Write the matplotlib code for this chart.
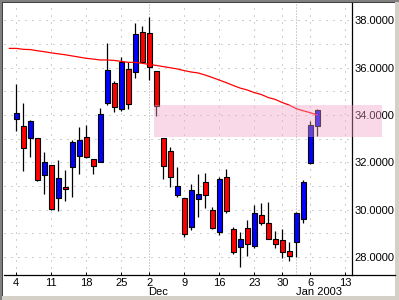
import matplotlib
matplotlib.use('Agg')
import matplotlib.pyplot as plt
from matplotlib.patches import Rectangle
from matplotlib.lines import Line2D
from matplotlib.transforms import blended_transform_factory

plt.rcParams['font.family'] = ['Liberation Sans', 'DejaVu Sans']

# trading days Nov 4 2002 .. Jan 7 2003
days = ['Nov 4', 'Nov 5', 'Nov 6', 'Nov 7', 'Nov 8',
        'Nov 11', 'Nov 12', 'Nov 13', 'Nov 14', 'Nov 15',
        'Nov 18', 'Nov 19', 'Nov 20', 'Nov 21', 'Nov 22',
        'Nov 25', 'Nov 26', 'Nov 27', 'Nov 29',
        'Dec 2', 'Dec 3', 'Dec 4', 'Dec 5', 'Dec 6',
        'Dec 9', 'Dec 10', 'Dec 11', 'Dec 12', 'Dec 13',
        'Dec 16', 'Dec 17', 'Dec 18', 'Dec 19', 'Dec 20',
        'Dec 23', 'Dec 24', 'Dec 26', 'Dec 27',
        'Dec 30', 'Dec 31', 'Jan 2', 'Jan 3', 'Jan 6', 'Jan 7']

opens = [33.82, 33.54, 33.04, 33.02, 31.48, 31.87, 30.48, 30.94, 31.79, 32.28,
         33.06, 32.13, 32.03, 34.52, 35.37, 34.25, 35.95, 35.83, 37.50, 37.45,
         35.86, 33.02, 32.47, 30.61, 30.48, 29.28, 30.44, 31.15, 29.97, 29.04,
         31.37, 29.17, 28.41, 29.21, 28.47, 29.76, 29.42, 28.75, 28.70, 28.26,
         28.62, 29.59, 31.96, 33.55]
highs = [35.31, 34.52, 33.79, 33.05, 32.45, 31.90, 32.10, 31.68, 32.94, 33.48,
         33.58, 32.15, 34.28, 37.06, 35.45, 36.47, 36.23, 37.90, 37.76, 38.13,
         35.88, 33.03, 32.66, 31.81, 30.50, 31.08, 31.51, 31.56, 30.10, 31.37,
         31.70, 29.25, 29.04, 29.56, 30.20, 30.27, 30.32, 29.10, 29.18, 28.64,
         29.89, 31.25, 33.75, 34.25]
lows = [33.34, 31.65, 32.24, 31.22, 30.66, 29.98, 29.95, 30.38, 30.52, 31.49,
        32.17, 31.51, 32.00, 34.42, 34.14, 34.18, 34.25, 35.58, 36.19, 35.48,
        33.97, 31.28, 30.97, 30.55, 28.86, 29.14, 29.70, 30.06, 29.17, 28.91,
        29.84, 28.11, 27.56, 28.04, 28.36, 29.35, 28.75, 28.36, 27.94, 27.84,
        27.98, 29.42, 31.92, 33.13]
closes = [34.07, 32.62, 33.73, 31.24, 32.00, 30.04, 31.32, 30.86, 32.85, 32.93,
          32.21, 31.84, 34.03, 35.90, 34.35, 36.25, 34.45, 37.43, 36.23, 36.04,
          34.38, 31.84, 31.37, 30.99, 28.96, 30.83, 30.65, 30.61, 29.21, 31.28,
          29.93, 28.20, 28.75, 28.53, 29.84, 29.42, 28.75, 28.56, 28.22, 28.03,
          29.84, 31.15, 33.58, 34.20]

# moving average, starts one session before Nov 4
ma_vals = [36.82, 36.82, 36.78, 36.77, 36.72, 36.68, 36.63, 36.59, 36.55, 36.50,
           36.45, 36.40, 36.37, 36.33, 36.33, 36.31, 36.27, 36.23, 36.23, 36.19,
           36.14, 36.10, 36.05, 36.00, 35.95, 35.88, 35.82, 35.78, 35.69, 35.59,
           35.48, 35.37, 35.25, 35.14, 35.06, 34.95, 34.87, 34.74, 34.66, 34.53,
           34.42, 34.27, 34.18, 34.10, 34.00]

tick_pos = [0, 5, 10, 15, 19, 24, 29, 34, 38, 42, 47]
tick_labels = ['4', '11', '18', '25', '2', '9', '16', '23', '30', '6', '13']
month_pos = [19, 40]
month_labels = ['Dec', 'Jan 2003']
price_ticks = [28, 30, 32, 34, 36, 38]

# highlighted zone
zone_x = [19.67, 52.24]
zone_y = [33.08, 34.42]

W, H = 399, 300
fig = plt.figure(figsize=(W / 100, H / 100), dpi=100)
fig.patch.set_facecolor('#d4d0c8')
frame = [((3 / W, 4 / H), 392 / W, 293 / H, 'white'),
         ((0, 0), 2 / W, 1, '#808080'),
         ((0, 1 - 2 / H), 1, 2 / H, '#808080'),
         ((2 / W, 4 / H), 1 / W, 294 / H, '#404040'),
         ((2 / W, 1 - 3 / H), 393 / W, 1 / H, '#404040')]
for xy, w, h, c in frame:
    fig.patches.append(Rectangle(xy, w, h, transform=fig.transFigure,
                                 facecolor=c, edgecolor='none', zorder=-5))

ax = fig.add_axes([4 / W, (H - 275) / H, 348 / W, 272 / H])
ax.patch.set_visible(False)
ax.set_xlim(-1.757, 47.96)
ax.set_ylim(27.235, 38.74)

# grid
for v in range(28, 39):
    ax.axhline(v, color='#a0a0a0', lw=0.72, ls=(0, (1, 6)), zorder=1)
for p in tick_pos:
    if p in month_pos:
        continue
    ax.axvline(p, color='#a0a0a0', lw=0.72, ls=(0, (1, 6)), zorder=1)
for p in month_pos:
    ax.axvline(p, color='#a0a0a0', lw=0.72, ls=(0, (1, 2)), zorder=1)

# candles
x = list(range(len(days)))
ax.vlines(x, lows, highs, color='black', lw=0.9, zorder=2)
body_bottom = [min(o, c) for o, c in zip(opens, closes)]
body_h = [max(abs(c - o), 0.03) for o, c in zip(opens, closes)]
cols = ['#0000ff' if c > o else '#ff0000' for o, c in zip(opens, closes)]
ax.bar(x, body_h, bottom=body_bottom, width=0.76, color=cols,
       edgecolor='black', linewidth=0.8, zorder=3)

ax.plot(range(-1, len(ma_vals) - 1), ma_vals, color='#ff0000', lw=0.9, zorder=4)

ax.add_patch(Rectangle((zone_x[0], zone_y[0]), zone_x[1] - zone_x[0], zone_y[1] - zone_y[0],
                       facecolor=(240 / 255, 162 / 255, 197 / 255), alpha=0.4,
                       edgecolor='none', clip_on=False, zorder=6))

# axes styling
for s in ['left', 'top']:
    ax.spines[s].set_visible(False)
ax.spines['right'].set_linewidth(0.9)
ax.spines['bottom'].set_linewidth(0.9)
fig.add_artist(Line2D([352 / W, 395 / W], [(H - 275) / H] * 2, color='black', lw=0.9))

ax.set_xticks(tick_pos)
ax.set_xticklabels(tick_labels)
ax.tick_params(axis='x', direction='in', length=2, width=0.7, pad=2.2, labelsize=8)

ax.yaxis.tick_right()
ax.set_yticks(price_ticks)
ax.set_yticklabels(['%.4f' % v for v in price_ticks])
ax.tick_params(axis='y', length=0, pad=1.5, labelsize=8)

tr = blended_transform_factory(ax.transData, ax.transAxes)
for p, lab in zip(month_pos, month_labels):
    ax.text(p - 0.1, -0.043, lab, transform=tr, ha='left', va='top', fontsize=8)

fig.savefig('out.png', dpi=100)
